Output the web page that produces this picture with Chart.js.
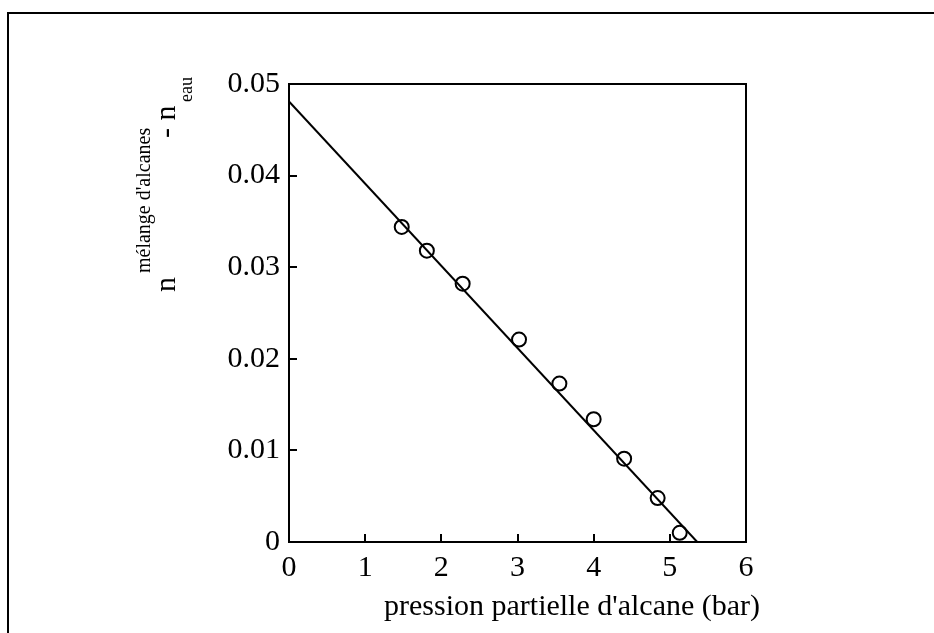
<!DOCTYPE html>
<html>
<head>
<meta charset="utf-8">
<script src="https://cdn.jsdelivr.net/npm/chart.js@4.4.1/dist/chart.umd.min.js"></script>
<style>
  html, body { margin: 0; padding: 0; background: #fff; }
  #wrap { width: 934px; height: 633px; }
</style>
</head>
<body>
<div id="wrap"><canvas id="c" width="934" height="633"></canvas></div>
<script>
// ---- data ----
const pressure = [1.48, 1.81, 2.28, 3.02, 3.55, 4.00, 4.40, 4.84, 5.13];
const deltaN   = [0.0344, 0.0318, 0.0282, 0.0221, 0.0173, 0.0134, 0.0091, 0.0048, 0.0010];
const fitX = [0, 5.36];
const fitY = [0.0481, 0];
const xTickLabels = ['0', '1', '2', '3', '4', '5', '6'];
const yTickLabels = ['0', '0.01', '0.02', '0.03', '0.04', '0.05'];
const xTitle = "pression partielle d'alcane (bar)";
const yTitleParts = { main: 'n', sup: "mélange d'alcanes", mid: '- n', sub: 'eau' };

const FONT = '"Liberation Serif", "Times New Roman", serif';

const framePlugin = {
  id: 'frame',
  beforeDraw(chart) {
    const ctx = chart.ctx;
    ctx.save();
    ctx.fillStyle = '#fff';
    ctx.fillRect(0, 0, chart.width, chart.height);
    ctx.strokeStyle = '#000';
    ctx.lineWidth = 2;
    ctx.strokeRect(8, 13, 1200, 1200);
    ctx.restore();
  },
  afterDraw(chart) {
    const ctx = chart.ctx;
    const a = chart.chartArea;
    const xs = chart.scales.x, ys = chart.scales.y;
    ctx.save();
    ctx.strokeStyle = '#000';
    ctx.lineWidth = 2;
    ctx.strokeRect(a.left, a.top, a.right - a.left, a.bottom - a.top);
    // inward ticks
    ctx.beginPath();
    xs.ticks.forEach(t => {
      const px = Math.round(xs.getPixelForValue(t.value));
      ctx.moveTo(px, a.bottom);
      ctx.lineTo(px, a.bottom - 8);
    });
    ys.ticks.forEach(t => {
      const py = Math.round(ys.getPixelForValue(t.value));
      ctx.moveTo(a.left, py);
      ctx.lineTo(a.left + 8, py);
    });
    ctx.stroke();

    // x axis title
    ctx.fillStyle = '#000';
    ctx.font = '30px ' + FONT;
    ctx.textBaseline = 'alphabetic';
    ctx.textAlign = 'left';
    ctx.fillText(xTitle, 384, 615);

    // y axis title (rotated, with super/subscripts)
    ctx.translate(175, 292);
    ctx.rotate(-Math.PI / 2);
    ctx.font = '30px ' + FONT;
    ctx.fillText(yTitleParts.main, 0, 0);
    ctx.font = '20px ' + FONT;
    ctx.fillText(yTitleParts.sup, 19, -25);
    ctx.font = '30px ' + FONT;
    ctx.fillText(yTitleParts.mid, 154, 0);
    ctx.font = '18px ' + FONT;
    ctx.fillText(yTitleParts.sub, 190, 17);
    ctx.restore();
  }
};

new Chart(document.getElementById('c'), {
  data: {
    datasets: [
      {
        type: 'line',
        data: fitX.map((x, i) => ({ x: x, y: fitY[i] })),
        borderColor: '#000',
        borderWidth: 2,
        pointRadius: 0,
        fill: false,
        tension: 0,
        order: 2
      },
      {
        type: 'scatter',
        data: pressure.map((x, i) => ({ x: x, y: deltaN[i] })),
        pointStyle: 'circle',
        pointRadius: 7,
        pointBorderWidth: 2,
        borderColor: '#000',
        backgroundColor: 'rgba(0,0,0,0)',
        order: 1
      }
    ]
  },
  options: {
    responsive: false,
    animation: false,
    layout: { padding: { left: 0, top: 84, right: 188, bottom: 0 } },
    plugins: { legend: { display: false }, tooltip: { enabled: false } },
    scales: {
      x: {
        type: 'linear',
        min: 0, max: 6,
        grid: { display: false, drawTicks: false },
        border: { display: false },
        ticks: {
          stepSize: 1,
          color: '#000',
          padding: 8,
          font: { family: FONT, size: 30 },
          maxRotation: 0,
          callback: (v, i) => xTickLabels[i]
        },
        afterFit: s => { s.height = 91; }
      },
      y: {
        type: 'linear',
        min: 0, max: 0.05,
        grid: { display: false, drawTicks: false },
        border: { display: false },
        ticks: {
          stepSize: 0.01,
          color: '#000',
          padding: 9,
          font: { family: FONT, size: 30 },
          callback: (v, i) => yTickLabels[i]
        },
        afterFit: s => { s.width = 289; }
      }
    }
  },
  plugins: [framePlugin]
});
</script>
</body>
</html>
